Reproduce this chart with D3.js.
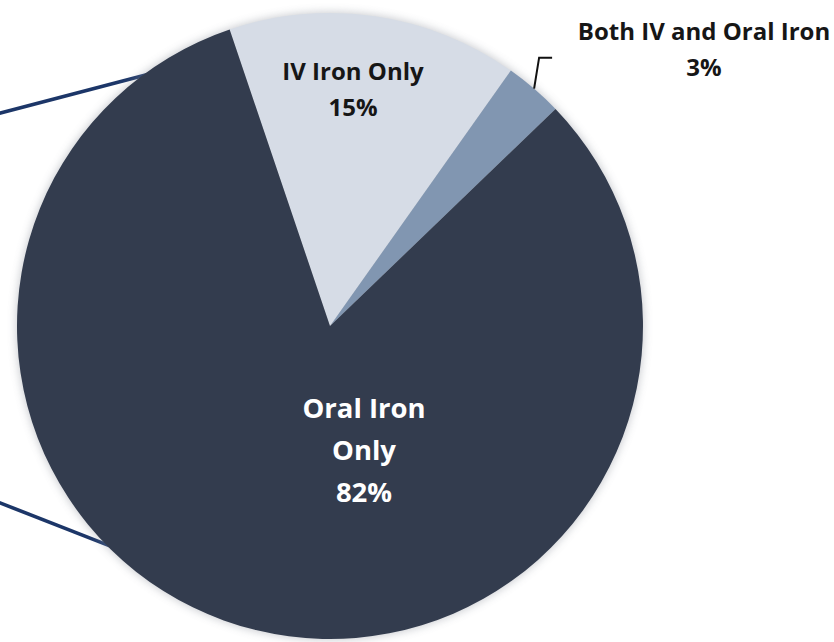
<!DOCTYPE html>
<html>
<head>
<meta charset="utf-8">
<script src="https://cdn.jsdelivr.net/npm/d3@7"></script>
<style>
  html, body { margin: 0; padding: 0; background: #ffffff; }
  svg { display: block; }
</style>
</head>
<body>
<svg id="chart" width="834" height="642"></svg>
<script>
// Share of patients by iron therapy received
const categories = ["IV Iron Only", "Both IV and Oral Iron", "Oral Iron Only"];
const shares = [15, 3, 82];
const valueLabels = ["15%", "3%", "82%"];
const sliceColors = ["#d6dce6", "#8196b1", "#333c4e"];

const width = 834, height = 642;
const cx = 330, cy = 326, radius = 313;
const startDeg = -18.7;

const svg = d3.select("#chart");

const defs = svg.append("defs");
const shadow = defs.append("filter").attr("id", "soft")
  .attr("x", "-10%").attr("y", "-10%").attr("width", "120%").attr("height", "120%");
shadow.append("feGaussianBlur").attr("stdDeviation", 4);

const g = svg.append("g").attr("transform", `translate(${cx},${cy})`);

const toRad = d => d * Math.PI / 180;
const pie = d3.pie().sort(null).value(d => d.value)
  .startAngle(toRad(startDeg)).endAngle(toRad(startDeg) + 2 * Math.PI);
const arcs = pie(categories.map((c, i) => ({ name: c, value: shares[i], label: valueLabels[i], color: sliceColors[i] })));
const arc = d3.arc().innerRadius(0).outerRadius(radius);
const pointAt = (angle, r) => [r * Math.sin(angle), -r * Math.cos(angle)];

// Connector lines leading off to the left-hand breakdown
const connectorAngles = [-35.1, -135.9];
const connectorEnds = [[-345, -209], [-345, 171]];
connectorAngles.forEach((a, i) => {
  const p = pointAt(toRad(a), radius - 4);
  g.append("line")
    .attr("x1", connectorEnds[i][0]).attr("y1", connectorEnds[i][1])
    .attr("x2", p[0]).attr("y2", p[1])
    .attr("stroke", "#1c3668").attr("stroke-width", 3.6);
});

// Soft halo around the pie
g.append("circle").attr("r", radius + 1)
  .attr("fill", "#8a8f99").attr("opacity", 0.45)
  .attr("filter", "url(#soft)");

g.selectAll("path.slice").data(arcs).enter().append("path")
  .attr("class", "slice")
  .attr("d", arc)
  .attr("fill", d => d.data.color);

const font = "'Open Sans', Lato, sans-serif";

// IV Iron Only label
const iv = arcs[0];
const ivText = g.append("text").attr("text-anchor", "middle")
  .attr("font-family", font).attr("font-weight", 700).attr("font-size", 24)
  .attr("fill", "#161616");
ivText.append("tspan").attr("x", 23).attr("y", 80 - cy).text(iv.data.name);
ivText.append("tspan").attr("x", 23).attr("y", 116 - cy).text(iv.data.label);

// Both IV and Oral Iron label, placed outside with a leader
const both = arcs[1];
const mid = (both.startAngle + both.endAngle) / 2;
const lp = pointAt(mid, radius);
g.append("path")
  .attr("d", `M${lp[0]},${lp[1]} L${lp[0] + 5},${lp[1] - 31} L${lp[0] + 18},${lp[1] - 31}`)
  .attr("fill", "none").attr("stroke", "#111111").attr("stroke-width", 2);
const bothText = g.append("text").attr("text-anchor", "middle")
  .attr("font-family", font).attr("font-weight", 700).attr("font-size", 24)
  .attr("fill", "#161616");
bothText.append("tspan").attr("x", 704 - cx).attr("y", 40 - cy).text(both.data.name);
bothText.append("tspan").attr("x", 704 - cx).attr("y", 76 - cy).text(both.data.label);

// Oral Iron Only label
const oral = arcs[2];
const oralText = g.append("text").attr("text-anchor", "middle")
  .attr("font-family", font).attr("font-weight", 700).attr("font-size", 27.5)
  .attr("fill", "#ffffff");
["Oral Iron", "Only", oral.data.label].forEach((t, i) => {
  oralText.append("tspan").attr("x", 34).attr("y", 418 + i * 42 - cy).text(t);
});
</script>
</body>
</html>
